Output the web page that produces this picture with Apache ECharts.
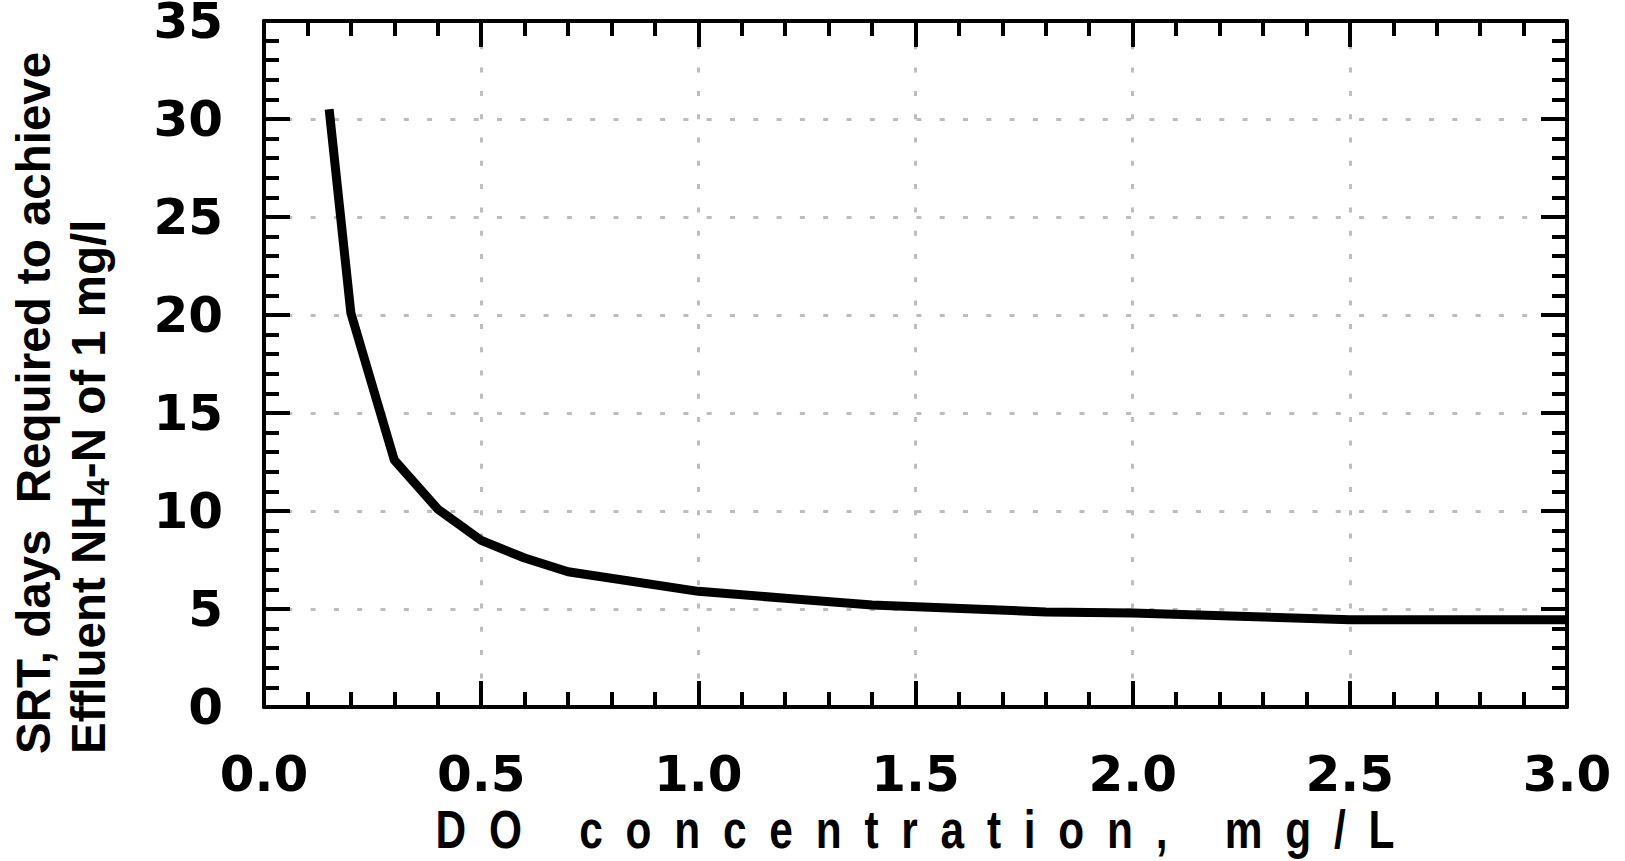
<!DOCTYPE html>
<html>
<head>
<meta charset="utf-8">
<script src="https://cdn.jsdelivr.net/npm/echarts@6/dist/echarts.min.js"></script>
<style>
html,body{margin:0;padding:0;background:#fff;}
#c{width:1625px;height:861px;}
</style>
</head>
<body>
<div id="c"></div>
<script>
// ---- data ----
const doConc = [0.15, 0.2, 0.3, 0.4, 0.5, 0.6, 0.7, 1.0, 1.2, 1.4, 1.8, 2.0, 2.5, 3.0];
const srtDays = [30.5, 20.1, 12.6, 10.1, 8.5, 7.6, 6.9, 5.9, 5.55, 5.2, 4.85, 4.8, 4.45, 4.45];
const xTickLabels = ['0.0', '0.5', '1.0', '1.5', '2.0', '2.5', '3.0'];
const yTickLabels = ['0', '5', '10', '15', '20', '25', '30', '35'];
const xTitle = 'DO concentration, mg/L';
const yTitle1 = 'SRT, days  Required to achieve';
const yTitle2a = 'Effluent NH';
const yTitle2sub = '4';
const yTitle2b = '-N of 1 mg/l';

const chart = echarts.init(document.getElementById('c'), null, {renderer: 'svg'});

const labelFont = {fontFamily: '"DejaVu Sans"', fontWeight: 'bold', fontSize: 50, color: '#000'};
const axisLine = {show: true, onZero: false, lineStyle: {color: '#000', width: 4}};
const majorTick = {show: true, inside: true, length: 26, lineStyle: {color: '#000', width: 4}};
const minorTick = {show: true, splitNumber: 5, length: 15, lineStyle: {color: '#000', width: 4}};
const gridDots = {show: true, lineStyle: {color: '#bdbdbd', width: 3, type: [5, 18.3]}};

const xFmt = v => { const s = v.toFixed(1); return xTickLabels.includes(s) ? s : ''; };
const yFmt = v => { const s = String(v); return yTickLabels.includes(s) ? s : ''; };

const titleFamily = '"Liberation Sans", Arial, sans-serif';

const option = {
  animation: false,
  backgroundColor: '#fff',
  grid: {left: 264, right: 58, top: 21, bottom: 154, containLabel: false, outerBoundsMode: 'none'},
  xAxis: [
    {type: 'value', min: 0, max: 3, interval: 0.5, position: 'bottom',
     axisLine, axisTick: majorTick, minorTick, splitLine: gridDots,
     axisLabel: Object.assign({margin: 42, formatter: xFmt, showMinLabel: true, showMaxLabel: true}, labelFont)},
    {type: 'value', min: 0, max: 3, interval: 0.5, position: 'top',
     axisLine, axisTick: majorTick, minorTick, splitLine: {show: false},
     axisLabel: {show: false}}
  ],
  yAxis: [
    {type: 'value', min: 0, max: 35, interval: 5, position: 'left',
     axisLine, axisTick: majorTick, minorTick, splitLine: gridDots,
     axisLabel: Object.assign({margin: 41, formatter: yFmt, lineHeight: 36}, labelFont)},
    {type: 'value', min: 0, max: 35, interval: 5, position: 'right',
     axisLine, axisTick: majorTick, minorTick, splitLine: {show: false},
     axisLabel: {show: false}}
  ],
  graphic: [
    {type: 'text', id: 'xt', x: 915, y: 830,
     style: {text: xTitle, fontFamily: titleFamily,
             fontWeight: 'bold', fontSize: 53, fill: '#000', align: 'center', verticalAlign: 'middle'}},
    {type: 'text', x: 33, y: 754, rotation: Math.PI / 2,
     style: {text: yTitle1, fontFamily: titleFamily, fontWeight: 'bold',
             fontSize: 47.5, fill: '#000', align: 'left', verticalAlign: 'middle'}},
    {type: 'text', x: 88, y: 754, rotation: Math.PI / 2,
     style: {text: yTitle2a + '{s|' + yTitle2sub + '}' + yTitle2b,
             fontFamily: titleFamily, fontWeight: 'bold',
             fontSize: 47.5, lineHeight: 52, fill: '#000', align: 'left', verticalAlign: 'middle',
             rich: {s: {fontFamily: titleFamily, fontWeight: 'bold',
                        fontSize: 31, fill: '#000', verticalAlign: 'bottom'}}}}
  ],
  series: [{
    type: 'line', xAxisIndex: 0, yAxisIndex: 0,
    data: doConc.map((x, i) => [x, srtDays[i]]),
    showSymbol: false, symbol: 'none', smooth: false, clip: false,
    lineStyle: {color: '#000', width: 9, join: 'round'}
  }]
};
chart.setOption(option);

// x-axis title: condensed glyphs, spread letters, as in the reference
function spreadTitle() {
  const sx = 0.8, target = 959;
  const c = document.createElement('canvas').getContext('2d');
  c.font = 'bold 53px ' + titleFamily;
  const w = c.measureText(xTitle).width;
  const sp = Math.max(0, (target / sx - w) / (xTitle.length - 1));
  document.querySelectorAll('#c svg text').forEach(t => {
    if (t.textContent !== xTitle) return;
    const cur = t.getAttribute('transform') || '';
    if (t.dataset.applied !== cur) t.dataset.orig = cur;
    const x = parseFloat(t.getAttribute('x') || '0');
    const y = parseFloat(t.getAttribute('y') || '0');
    const next = (t.dataset.orig || '') + ' translate(' + x + ',' + y + ') scale(' + sx + ',1) translate(' + (-x + sp / 2) + ',' + (-y) + ')';
    t.style.letterSpacing = sp + 'px';
    t.setAttribute('transform', next);
    t.dataset.applied = next;
  });
}
spreadTitle();
chart.on('finished', spreadTitle);
</script>
</body>
</html>
